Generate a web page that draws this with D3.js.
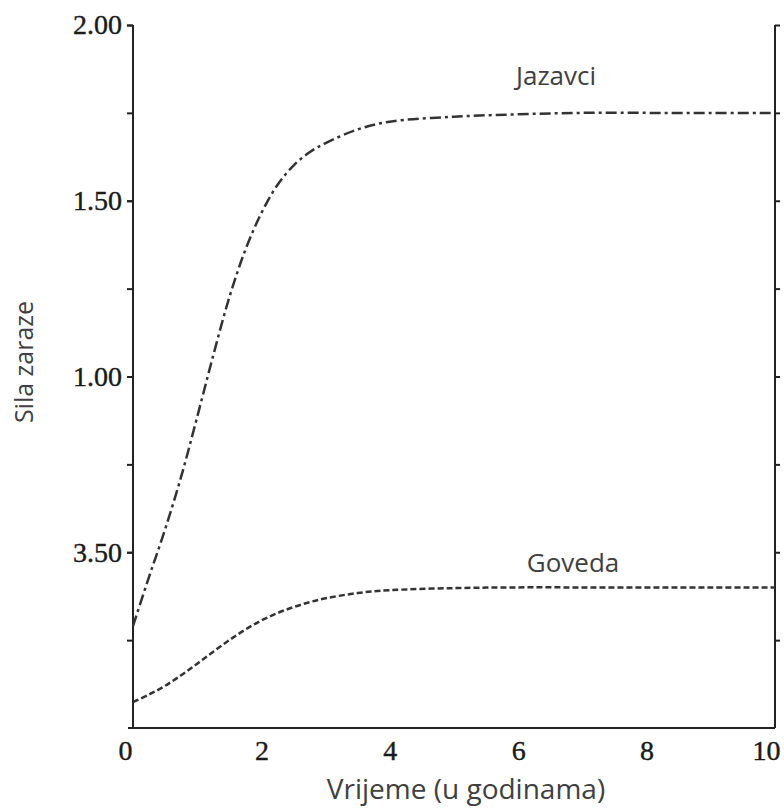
<!DOCTYPE html>
<html>
<head>
<meta charset="utf-8">
<script src="https://cdn.jsdelivr.net/npm/d3@7"></script>
<style>
  body { margin: 0; background: #fff; }
  .tick text { font-family: "Liberation Serif", serif; }
</style>
</head>
<body>
<svg id="chart" width="784" height="810"></svg>
<script>
// values
var years = [0, 0.25, 0.5, 0.75, 1, 1.25, 1.5, 1.75, 2, 2.25, 2.5, 2.75, 3, 3.5, 4, 5, 6, 7, 8, 9, 10];
var jazavci = [0.29, 0.43, 0.565, 0.715, 0.885, 1.06, 1.225, 1.36, 1.465, 1.545, 1.6, 1.638, 1.664, 1.703, 1.725, 1.739, 1.746, 1.75, 1.75, 1.75, 1.75];
var goveda = [0.074, 0.095, 0.12, 0.15, 0.183, 0.217, 0.25, 0.28, 0.306, 0.327, 0.344, 0.358, 0.369, 0.384, 0.392, 0.398, 0.40, 0.40, 0.40, 0.40, 0.40];
var xTicks = [0, 2, 4, 6, 8, 10];
var yTicks = [0.5, 1, 1.5, 2];
var yTickLabels = ['3.50', '1.00', '1.50', '2.00'];
var yMinor = [0.25, 0.5, 0.75, 1, 1.25, 1.5, 1.75, 2];

var svg = d3.select('#chart'),
    margin = {top: 25, left: 133, right: 9, bottom: 82},
    width = 784 - margin.left - margin.right,
    height = 810 - margin.top - margin.bottom;

var x = d3.scaleLinear().domain([0, 10]).range([0, width]);
var y = d3.scaleLinear().domain([0, 2]).range([height, 0]);

var g = svg.append('g')
    .attr('transform', 'translate(' + margin.left + ',' + margin.top + ')');

// left axis: minor ticks, then labels on the big ones
g.append('g')
    .call(d3.axisLeft(y).tickValues(yMinor).tickSize(6).tickFormat(''))
    .call(function(a) { a.select('.domain').remove(); });

g.append('g')
    .call(d3.axisLeft(y).tickValues(yTicks).tickSize(6).tickPadding(5)
      .tickFormat(function(d, i) { return yTickLabels[i]; }))
    .call(function(a) {
      a.select('.domain').attr('d', 'M0,0V' + height);
      a.selectAll('.tick text').style('font-size', '28px').attr('fill', '#1a1a1a')
        .attr('stroke', '#1a1a1a').attr('stroke-width', 0.4);
    });

// right axis, ticks pointing out
g.append('g')
    .attr('transform', 'translate(' + width + ',0)')
    .call(d3.axisRight(y).tickValues(yMinor).tickSize(5).tickFormat(''))
    .call(function(a) { a.select('.domain').attr('d', 'M0,0V' + height); });

// bottom axis, end labels pulled in a little
g.append('g')
    .attr('transform', 'translate(0,' + height + ')')
    .call(d3.axisBottom(x).tickValues(xTicks).tickSize(0).tickPadding(12))
    .call(function(a) {
      a.select('.domain').attr('d', 'M-5,0H' + width);
      a.selectAll('.tick text').style('font-size', '28px').attr('fill', '#1a1a1a')
        .attr('stroke', '#1a1a1a').attr('stroke-width', 0.4)
        .attr('dy', '0.71em')
        .attr('dx', function(d) { return d === 0 ? -8 : d === 10 ? -9 : 0; });
    });

g.selectAll('.domain, .tick line')
    .attr('stroke', '#222')
    .attr('stroke-width', 2);

var line = d3.line()
    .x(function(d, i) { return x(years[i]); })
    .y(function(d) { return y(d); })
    .curve(d3.curveCatmullRom.alpha(0.5));

g.append('path')
    .datum(jazavci)
    .attr('d', line)
    .attr('fill', 'none')
    .attr('stroke', '#333')
    .attr('stroke-width', 2.5)
    .attr('stroke-dasharray', '11,4,3,4');

g.append('path')
    .datum(goveda)
    .attr('d', line)
    .attr('fill', 'none')
    .attr('stroke', '#333')
    .attr('stroke-width', 2.5)
    .attr('stroke-dasharray', '6,3');

// series labels
var labelFont = '"Open Sans", sans-serif';

g.append('text')
    .attr('x', 556 - margin.left).attr('y', 60)
    .attr('text-anchor', 'middle')
    .style('font-family', labelFont).style('font-size', '26px')
    .attr('fill', '#404040')
    .text('Jazavci');

g.append('text')
    .attr('x', 573 - margin.left).attr('y', 547)
    .attr('text-anchor', 'middle')
    .style('font-family', labelFont).style('font-size', '26px')
    .attr('fill', '#404040')
    .text('Goveda');

// axis titles
svg.append('text')
    .attr('x', 466).attr('y', 799)
    .attr('text-anchor', 'middle')
    .style('font-family', labelFont).style('font-size', '28px')
    .attr('fill', '#404040')
    .text('Vrijeme (u godinama)');

svg.append('text')
    .attr('transform', 'translate(33,362) rotate(-90)')
    .attr('text-anchor', 'middle')
    .style('font-family', labelFont).style('font-size', '25px')
    .attr('fill', '#404040')
    .text('Sila zaraze');
</script>
</body>
</html>
